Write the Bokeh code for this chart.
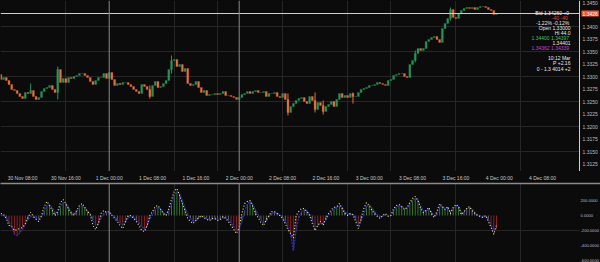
from bokeh.plotting import figure
from bokeh.layouts import column
from bokeh.models import (ColumnDataSource, FixedTicker, Grid, Span, Label, Range1d, LinearAxis)
from bokeh.embed import file_html
from bokeh.resources import INLINE

BG = "#0b0b0b"
GRID = "#262626"
UP = "#27955a"
DOWN = "#ec6c3e"
FONT = "Liberation Sans"

# ---------------- data ----------------
start_hour = 4.0          # 30 Nov 04:00, half-hour candles
first_open = 1.3304
closes = [
    1.3294, 1.3298, 1.3292, 1.3284, 1.3274, 1.3272, 1.3266, 1.3260, 1.3256, 1.3268,
    1.3266, 1.3272, 1.3260, 1.3254, 1.3258, 1.3270, 1.3276, 1.3278, 1.3282, 1.3274,
    1.3268, 1.3314, 1.3288, 1.3296, 1.3288, 1.3298, 1.3296, 1.3300, 1.3302, 1.3306,
    1.3306, 1.3302, 1.3298, 1.3290, 1.3284, 1.3292, 1.3298, 1.3298, 1.3306, 1.3296,
    1.3308, 1.3294, 1.3282, 1.3286, 1.3284, 1.3288, 1.3288, 1.3284, 1.3280, 1.3274,
    1.3270, 1.3266, 1.3284, 1.3280, 1.3274, 1.3260, 1.3282, 1.3290, 1.3278, 1.3280,
    1.3286, 1.3292, 1.3314, 1.3332, 1.3334, 1.3320, 1.3324, 1.3310, 1.3316, 1.3286,
    1.3282, 1.3284, 1.3290, 1.3278, 1.3268, 1.3272, 1.3262, 1.3264, 1.3264, 1.3266,
    1.3264, 1.3266, 1.3270, 1.3262, 1.3262, 1.3260, 1.3258, 1.3254, 1.3258, 1.3264,
    1.3266, 1.3270, 1.3266, 1.3270, 1.3272, 1.3268, 1.3268, 1.3270, 1.3260, 1.3266,
    1.3266, 1.3268, 1.3260, 1.3258, 1.3266, 1.3254, 1.3228, 1.3240, 1.3246, 1.3252,
    1.3256, 1.3258, 1.3250, 1.3246, 1.3260, 1.3252, 1.3234, 1.3248, 1.3242, 1.3230,
    1.3240, 1.3244, 1.3250, 1.3240, 1.3254, 1.3266, 1.3258, 1.3262, 1.3258, 1.3266,
    1.3260, 1.3260, 1.3268, 1.3274, 1.3276, 1.3278, 1.3282, 1.3282, 1.3284, 1.3288,
    1.3286, 1.3284, 1.3282, 1.3292, 1.3294, 1.3302, 1.3304, 1.3306, 1.3306, 1.3300,
    1.3298, 1.3324, 1.3332, 1.3346, 1.3356, 1.3352, 1.3356, 1.3370, 1.3374, 1.3378,
    1.3380, 1.3374, 1.3368, 1.3396, 1.3406, 1.3416, 1.3434, 1.3418, 1.3416, 1.3426,
    1.3432, 1.3436, 1.3438, 1.3436, 1.3438, 1.3434, 1.3438, 1.3440, 1.3440, 1.3438,
    1.3434, 1.3432, 1.3424, 1.3426,
]
wick_index = [11, 21, 55, 63, 106, 116, 119, 130, 153, 166]
wick_high = [1.3286, 1.3320, 1.3282, 1.3342, 1.3266, 1.3268, 1.3252, 1.3268, 1.3352, 1.3438]
wick_low = [1.3266, 1.3254, 1.3256, 1.3306, 1.3222, 1.3228, 1.3224, 1.3246, 1.3328, 1.3412]
bid_price = 1.3426

cci_fast = [
    27, 13, -40, -133, -147, -200, -187, -173, -160, -107,
    -27, 40, -13, -53, -80, 0, 120, 187, 133, 67,
    0, 53, 173, 213, 160, 80, 27, 0, 67, 133,
    160, 107, 53, 13, -133, -187, -107, 27, 67, 40,
    53, 0, -40, -80, -133, -173, -80, 0, 0, -40,
    -80, -133, -200, -213, -133, 0, 53, 120, 133, 80,
    27, 0, 93, 213, 320, 360, 267, 160, 67, -40,
    -80, -107, -67, -27, 0, -27, -53, -67, -40, -40,
    -67, -53, -13, -40, -80, -133, -187, -240, -160, 27,
    160, 187, 200, 120, 27, -27, -93, -133, -53, 0,
    53, 53, 27, 0, -40, -107, -187, -240, -300, 0,
    53, 93, 93, 53, 0, -107, -200, -133, -80, -133,
    -40, 27, 80, 107, 120, 160, 93, 27, 0, 27,
    13, -80, -173, -40, 93, 173, 133, 67, 27, -13,
    -40, 0, 27, -13, 0, 93, 133, 147, 120, 80,
    107, 173, 227, 253, 200, 93, 40, 67, 107, 27,
    -27, 53, 160, 120, 80, 120, 27, 107, 147, 120,
    13, 53, 93, 120, 67, 27, 0, -13, -27, 0,
    -80, -160, -250, -120,
]
cci_slow = [
    10, 0, -20, -90, -150, -250, -270, -230, -180, -120,
    -60, -10, -20, -40, -50, -20, 60, 130, 140, 100,
    40, 40, 120, 170, 160, 110, 50, 20, 50, 100,
    130, 100, 60, 20, -60, -130, -110, -30, 30, 40,
    40, 10, -20, -60, -100, -130, -90, -30, -10, -30,
    -60, -100, -150, -180, -140, -50, 20, 80, 110, 90,
    40, 10, 60, 160, 260, 320, 290, 200, 100, 20,
    -40, -80, -70, -40, -20, -20, -40, -50, -50, -40,
    -50, -50, -30, -30, -60, -100, -150, -200, -190, -80,
    60, 150, 190, 150, 80, 10, -50, -100, -80, -20,
    30, 40, 30, 10, -20, -80, -150, -250, -470, -200,
    -30, 50, 80, 60, 20, -60, -150, -140, -100, -110,
    -60, 0, 50, 90, 110, 130, 110, 50, 20, 20,
    10, -40, -120, -80, 20, 120, 140, 100, 50, 10,
    -20, -10, 10, 0, 0, 60, 110, 130, 120, 90,
    100, 150, 200, 230, 210, 130, 60, 60, 90, 40,
    0, 30, 120, 120, 90, 110, 50, 90, 130, 120,
    40, 40, 80, 110, 80, 40, 10, -10, -20, -10,
    -50, -120, -200, -180,
]

time_ticks = [8, 16, 24, 32, 40, 48, 56, 64, 72, 80, 88, 96, 104]
time_labels = ["30 Nov 08:00", "30 Nov 16:00", "1 Dec 00:00", "1 Dec 08:00",
               "1 Dec 16:00", "2 Dec 00:00", "2 Dec 08:00", "2 Dec 16:00",
               "3 Dec 00:00", "3 Dec 08:00", "3 Dec 16:00", "4 Dec 00:00",
               "4 Dec 08:00"]
vgrid_hours = [16, 36, 44, 56, 68, 76, 88, 100]
session_hours = [24, 48]

price_ticks = [1.3125, 1.3150, 1.3175, 1.3200, 1.3225, 1.3250, 1.3275, 1.3300,
               1.3325, 1.3350, 1.3375, 1.3400, 1.3450]
price_grid = [1.3150, 1.3200, 1.3250, 1.3300, 1.3350, 1.3400]
osc_ticks = [200, 0, -200, -400, -600]
osc_labels = ["200.0000", "0.0000", "-200.0000", "-400.0000", "-600.0000"]
osc_grid = [-200]

info_lines = [
    ("Bid 1.34260  +0", "#e8e8e8"),
    ("-40   -40", "#e04040"),
    ("-1.22%  -0.12%", "#e8e8e8"),
    ("Open 1.33000", "#e8e8e8"),
    ("Hi 44.0", "#e8e8e8"),
    ("1.34400  1.34397", "#3fc060"),
    ("1.34401", "#e8e8e8"),
    ("1.34362  1.34339", "#c040e0"),
    ("10:12 Mar", "#e8e8e8"),
    ("P +2.16", "#e8e8e8"),
    ("0 - 1.3 4014 +2", "#e8e8e8"),
]
info_rows = [12, 17, 22, 27, 32, 37, 42, 47, 57, 62, 68]

# ---------------- derived ----------------
n = len(closes)
hours = [start_hour + 0.5 * k for k in range(n)]
opens = [first_open] + closes[:-1]
tops = [max(o, c) for o, c in zip(opens, closes)]
bots = [min(o, c) for o, c in zip(opens, closes)]
colors = [UP if c >= o else DOWN for o, c in zip(opens, closes)]
candles = ColumnDataSource(dict(x=hours, top=tops, bottom=bots, color=colors))
wicks = ColumnDataSource(dict(x=[hours[i] for i in wick_index], hi=wick_high, lo=wick_low,
                              color=[colors[i] for i in wick_index]))

def bar_color(v):
    if v >= 90:
        return "#3c8f34"
    if v <= -90:
        return "#b22428"
    return "#7a7a7a"

osc = ColumnDataSource(dict(x=hours, fast=cci_fast, slow=cci_slow,
                            bcol=[bar_color(v) for v in cci_slow]))

# plot area runs to X1 (x = 579 px); the strip X1..XR holds the price scale
X0, X1 = 3.93, 110.82
XR = X1 + 21 * (X1 - X0) / 579
PY0, PY1 = 1.3110, 1.3452
OY0, OY1 = -666.7, 426.7


def style_axis(ax, size, color):
    ax.major_label_text_font = FONT
    ax.major_label_text_font_size = size
    ax.major_label_text_color = color
    ax.major_tick_out = 0
    ax.major_tick_in = 0
    ax.minor_tick_out = 0
    ax.minor_tick_in = 0


# ---------------- top (price) ----------------
p = figure(frame_width=600, frame_height=171, output_backend="svg", toolbar_location=None,
           x_range=Range1d(X0, XR), y_range=Range1d(PY0, PY1),
           x_axis_location=None, y_axis_location=None,
           background_fill_color=BG, border_fill_color=BG, outline_line_color=None,
           min_border=0)
p.grid.visible = False
p.add_layout(Grid(dimension=0, ticker=FixedTicker(ticks=vgrid_hours), grid_line_color=GRID))
p.add_layout(Grid(dimension=1, ticker=FixedTicker(ticks=price_grid), grid_line_color=GRID))
for h in session_hours:
    p.add_layout(Span(location=h, dimension="height", line_color="#8a8a8a", line_width=1))

# mask of the price-scale strip
p.quad(left=[X1], right=[XR], bottom=[PY0], top=[PY1], fill_color=BG, line_color=None)

p.segment(x0="x", y0="lo", x1="x", y1="hi", color="color", line_width=1, source=wicks)
p.vbar(x="x", width=0.36, top="top", bottom="bottom", fill_color="color",
       line_color="color", line_width=0.3, source=candles)
p.segment(x0=[X0], x1=[X1], y0=[bid_price], y1=[bid_price], line_color="#d6cfb4", line_width=1)

ya = LinearAxis(fixed_location=X1, ticker=FixedTicker(ticks=price_ticks),
                major_label_overrides={t: f"{t:.4f}" for t in price_ticks},
                major_label_standoff=3, axis_line_color="#d0d0d0")
style_axis(ya, "5px", "#bdbdbd")
p.add_layout(ya, "right")

p.add_layout(Label(x=X1, y=bid_price, x_offset=2, text=f"{bid_price:.4f}",
                   text_font=FONT, text_font_size="5px", text_baseline="middle",
                   text_color="#ffffff", background_fill_color="#f0592a",
                   border_line_color=None, padding=1))

for (txt, col), row in zip(info_lines, info_rows):
    p.add_layout(Label(x=570, y=171 - row, x_units="screen", y_units="screen",
                       text=txt, text_align="right", text_baseline="middle",
                       text_font=FONT, text_font_size="5px", text_color=col))

# ---------------- bottom (oscillator) ----------------
q = figure(frame_width=600, frame_height=82, output_backend="svg", toolbar_location=None,
           x_range=p.x_range, y_range=Range1d(OY0, OY1),
           x_axis_location="above", y_axis_location=None,
           background_fill_color=BG, border_fill_color=BG, outline_line_color=None,
           min_border=0)
q.grid.visible = False
q.add_layout(Grid(dimension=0, ticker=FixedTicker(ticks=vgrid_hours), grid_line_color=GRID))
q.add_layout(Grid(dimension=1, ticker=FixedTicker(ticks=osc_grid), grid_line_color=GRID))
for h in session_hours:
    q.add_layout(Span(location=h, dimension="height", line_color="#8a8a8a", line_width=1))
q.quad(left=[X1], right=[XR], bottom=[OY0], top=[OY1], fill_color=BG, line_color=None)

xa = q.xaxis[0]
xa.ticker = FixedTicker(ticks=time_ticks)
xa.major_label_overrides = dict(zip(time_ticks, time_labels))
xa.major_label_standoff = 3
xa.axis_line_color = "#8c8c8c"
xa.axis_line_width = 1.5
style_axis(xa, "5px", "#c8c8c8")

q.segment(x0="x", y0=0, x1="x", y1="slow", color="bcol", line_width=0.8, source=osc)
q.line(x="x", y="slow", color="#2a2fa8", line_width=1.3, line_dash="2 1", source=osc)
q.line(x="x", y="fast", color="#f4ec8a", line_width=1.1, line_dash="1 2", source=osc)

yb = LinearAxis(fixed_location=X1, ticker=FixedTicker(ticks=osc_ticks),
                major_label_overrides=dict(zip(osc_ticks, osc_labels)),
                major_label_standoff=1, axis_line_color=None)
style_axis(yb, "4.1px", "#b8b8c8")
q.add_layout(yb, "right")

layout = column(p, q, spacing=0, background=BG)
html = file_html(layout, INLINE)
html = html.replace("<body>", "<body style=\"margin:0;background:#0b0b0b\">")
open("out.html", "w").write(html)
